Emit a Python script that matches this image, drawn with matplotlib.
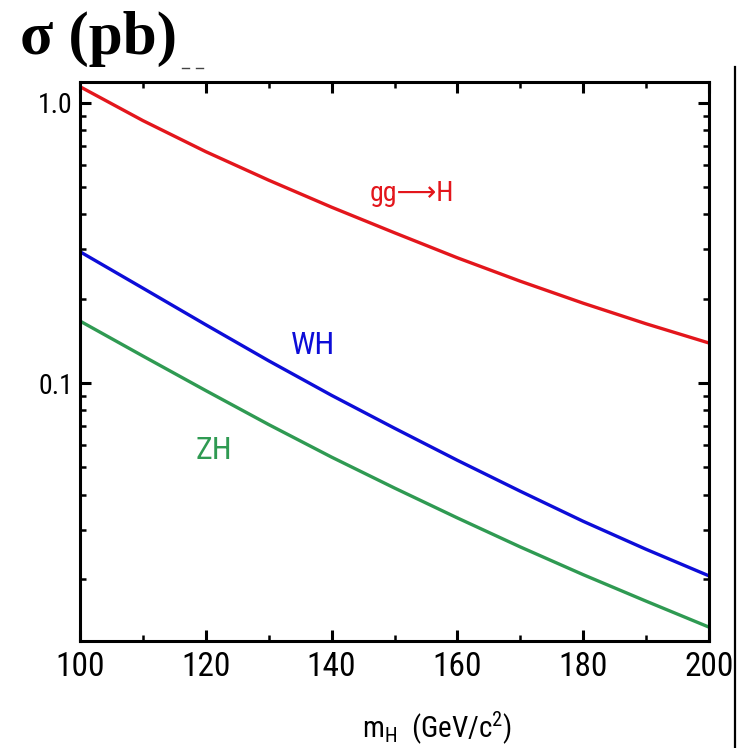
import matplotlib
matplotlib.use("Agg")
import matplotlib.pyplot as plt
from matplotlib import font_manager
from matplotlib.lines import Line2D
from matplotlib.ticker import FixedLocator, NullFormatter, FixedFormatter

# Higgs production cross sections (pb) vs. Higgs mass (GeV/c^2)
masses = [100, 110, 120, 130, 140, 150, 160, 170, 180, 190, 200]
sigma_ggH = [1.143, 0.865, 0.670, 0.530, 0.4245, 0.344, 0.280, 0.231, 0.1928, 0.1628, 0.139]
sigma_WH = [0.2944, 0.2182, 0.1615, 0.1201, 0.0904, 0.0690, 0.0530, 0.0411, 0.0321, 0.0255, 0.0205]
sigma_ZH = [0.1665, 0.1249, 0.0940, 0.0711, 0.0544, 0.0422, 0.0330, 0.0260, 0.0207, 0.01665, 0.01345]

x_ticks = [100, 120, 140, 160, 180, 200]
x_tick_labels = ["100", "120", "140", "160", "180", "200"]
y_ticks = [0.1, 1.0]
y_tick_labels = ["0.1", "1.0"]

# pick a narrow sans face if one is installed
fonts = font_manager.fontManager.ttflist
names = {f.name for f in fonts}
family, stretch = None, "normal"
for cand in ["Liberation Sans Narrow", "Roboto Condensed", "Open Sans Condensed",
             "Noto Sans Condensed", "DejaVu Sans Condensed"]:
    if cand in names:
        family = cand
        break
if family is None:
    for base in ["Noto Sans", "Open Sans", "Roboto", "DejaVu Sans", "Lato", "Inter"]:
        for f in fonts:
            if (f.name == base and f.stretch in ("condensed", "semi-condensed")
                    and f.style == "normal" and f.weight in (400, "normal", "regular")):
                family, stretch = base, f.stretch
                break
        if family:
            break
if family is None:
    family = "Roboto"

plt.rcParams["font.family"] = [family, "DejaVu Sans"]
plt.rcParams["font.stretch"] = stretch
plt.rcParams["mathtext.fontset"] = "custom"
plt.rcParams["mathtext.rm"] = family
plt.rcParams["mathtext.it"] = family + ":italic"
plt.rcParams["mathtext.bf"] = family + ":bold"

RED = "#e3161c"
BLUE = "#0d0dd8"
GREEN = "#2f9a52"

fig = plt.figure(figsize=(7.44, 7.48), dpi=100)
ax = fig.add_axes([80 / 744, 1 - 641 / 748, 629 / 744, 559 / 748])

ax.plot(masses, sigma_ggH, color=RED, lw=2.4)
ax.plot(masses, sigma_WH, color=BLUE, lw=2.4)
ax.plot(masses, sigma_ZH, color=GREEN, lw=2.4)

ax.set_yscale("log")
ax.set_xlim(100, 200)
ax.set_ylim(0.0120, 1.188)

# ticks on all four sides, pointing inward
ax.xaxis.set_major_locator(FixedLocator(x_ticks))
ax.xaxis.set_major_formatter(FixedFormatter(x_tick_labels))
ax.xaxis.set_minor_locator(FixedLocator([110, 130, 150, 170, 190]))
ax.yaxis.set_major_locator(FixedLocator(y_ticks))
ax.yaxis.set_major_formatter(FixedFormatter(y_tick_labels))
ax.yaxis.set_minor_locator(FixedLocator([0.02, 0.03, 0.04, 0.05, 0.06, 0.07, 0.08, 0.09,
                                         0.2, 0.3, 0.4, 0.5, 0.6, 0.7, 0.8, 0.9]))
ax.yaxis.set_minor_formatter(NullFormatter())

ax.tick_params(which="both", direction="in", top=True, right=True, color="black")
ax.tick_params(which="major", length=8, width=2.2)
ax.tick_params(which="minor", length=4.5, width=1.8)
ax.tick_params(axis="x", which="major", labelsize=24, pad=7)
ax.tick_params(axis="y", which="major", labelsize=20, pad=5)

for sp in ax.spines.values():
    sp.set_linewidth(2.2)

ax.set_xlabel("m$_\\mathregular{H}$  (GeV/c$^\\mathregular{2}$)", fontsize=21)
ax.xaxis.set_label_coords((437 - 80) / 629, -(710 - 641) / 559)
ax.xaxis.label.set_va("top")

# curve labels
ax.text(152.8, 0.477, "gg⟶H", color=RED, fontsize=20, ha="center", va="center")
ax.text(137.0, 0.1367, "WH", color=BLUE, fontsize=23, ha="center", va="center")
ax.text(121.3, 0.0576, "ZH", color=GREEN, fontsize=23, ha="center", va="center")

# heading
fig.text(20 / 744, 1 - 54 / 748, "σ (pb)", fontsize=44, fontweight="bold",
         family=["Liberation Serif", "DejaVu Serif"], ha="left", va="baseline")

# frame edge on the right
fig.add_artist(Line2D([735 / 744, 735 / 744], [0, 1 - 67 / 748],
                      transform=fig.transFigure, color="black", lw=1.6))
# small marks below the heading
fig.add_artist(Line2D([182 / 744, 189 / 744], [1 - 68 / 748] * 2,
                      transform=fig.transFigure, color="#444444", lw=1.0))
fig.add_artist(Line2D([196 / 744, 203 / 744], [1 - 68 / 748] * 2,
                      transform=fig.transFigure, color="#444444", lw=1.0))

fig.savefig("out.png", dpi=100, facecolor="white")
